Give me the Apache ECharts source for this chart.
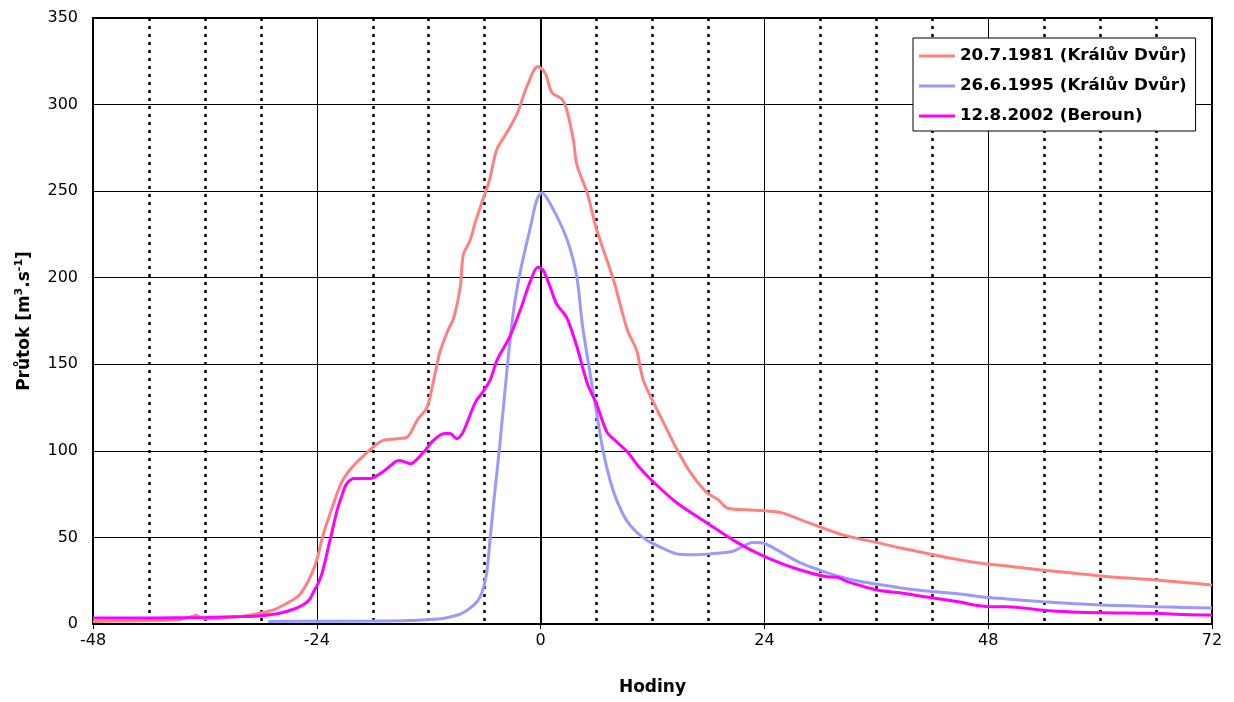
<!DOCTYPE html>
<html>
<head>
<meta charset="utf-8">
<script src="https://cdn.jsdelivr.net/npm/echarts@6/dist/echarts.min.js"></script>
<style>html,body{margin:0;padding:0;background:#fff}#c{width:1234px;height:702px}</style>
</head>
<body>
<div id="c"></div>
<script>
const seriesNames = ['20.7.1981 (Králův Dvůr)', '26.6.1995 (Králův Dvůr)', '12.8.2002 (Beroun)'];

const hours1981 = [-48,-44,-40,-38.5,-37.3,-37,-36.5,-35.8,-34,-32,-30,-28.5,-27.2,-26,-25.1,-24.4,-24,-23.3,-22.3,-21.5,-21,-20.3,-19.4,-18,-16.9,-15.5,-14.3,-13.2,-12.2,-11.5,-10.8,-9.9,-9.3,-8.6,-8.3,-7.6,-7.0,-6.2,-5.5,-4.7,-3.6,-2.5,-1.5,-0.3,0.5,1.2,2.3,2.8,3.5,3.9,5.0,6.0,7.8,9.3,10.3,11.0,12.1,13.3,14.6,16,17.8,19,20,22,23.8,25,26,28,30,32.4,36.1,38.5,42.1,45,47.4,50,53.9,57,60,63,66,69,72];
const values1981 = [1.5,1.8,2.2,2.8,4.5,5,4,3,3.5,4.5,6.3,8.5,12,16,23,31,37,52,68,80,85,90,95,102,106,107,108,118,125,140,157,170,177,195,213,221,232,245,256,274,284,295,310,322,318,307,303,297,280,265,249,228,199,170,158,141,128,115,101,88,76,72,67,66,65.5,65,64,60,56,51.5,47,44,40,37,35,33.5,31,29.5,27.7,26.5,25.4,24,22.5];

const hours1995 = [-29.2,-24,-18,-14,-12.2,-10.5,-9.4,-8.5,-7.6,-6.8,-6.3,-5.8,-5.4,-4.9,-4.4,-3.6,-2.9,-2.2,-1.1,-0.4,0.15,1.0,2.4,3.2,3.9,4.5,5.3,6.0,6.7,7.5,8.2,9.2,10.3,11.5,12.8,14.6,16,18.2,20.6,22.8,23.8,25.3,26.4,28,30,32,34.3,36.1,38.5,41.4,45,47.4,50,53.9,57,60,63,66,69,72];
const values1995 = [1.5,1.6,1.7,2,2.5,3.2,4.5,6,9,13,18,29,50,77,102,147,181,203,229,245,249,243,228,216,200,172,145,122,100,82,71,60,53,48,44.5,40.5,40,40.5,42,47,46.8,43,39.5,35,31,27.5,24.5,23,21,19,17.3,15.6,14.5,12.8,11.8,11,10.5,10,9.6,9.2];

const hours2002 = [-48,-42,-36,-32,-30,-28,-26.5,-25.5,-24.8,-24.4,-23.9,-23.4,-22.6,-21.8,-21.2,-20.8,-20,-18.3,-16.9,-15.5,-15.1,-14,-12.6,-11.5,-10.3,-9.7,-9.0,-8.4,-7.9,-7.0,-6.2,-5.4,-4.7,-3.3,-2.2,-1.1,-0.3,0.25,1.0,1.7,2.8,3.9,5.0,6.0,7.1,8.0,9.3,10.5,12.1,14.6,17.8,21.1,23.8,27.1,30.7,31.8,32.9,36.1,38.5,41.4,45,46.5,48.2,50,53.9,57,60,66,69,72];
const values2002 = [3.5,3.5,3.8,4.3,4.8,6.2,8.5,11,14,18,23,30,48,66,76,81,84,84,88,94,94.5,92.5,99,106,110,110,107,110,116,128,134,141,152,166,181,198,206,204.5,195,185,177,160,139,127,111,106,99.5,91,82,70,58.5,47,39.5,32.5,27.3,27,24.5,19.6,18,15.6,12.7,11,10,10,8,7,6.5,6.2,5.5,5.2];

const xTicks = [-48, -24, 0, 24, 48, 72];
const yTicks = [0, 50, 100, 150, 200, 250, 300, 350];

function pairs(h, v) { return h.map((x, i) => [x, v[i]]); }

const FONT = 'DejaVu Sans, Liberation Sans, Arial, sans-serif';
const LEG_ICON = 'path://M0,0H36V3H0Z';
const chart = echarts.init(document.getElementById('c'), null, {renderer: 'canvas'});
chart.setOption({
  animation: false,
  backgroundColor: '#ffffff',
  grid: {left: 93, right: 22, top: 18, bottom: 78, show: true, borderColor: '#000', borderWidth: 2, backgroundColor: 'transparent'},
  legend: {
    orient: 'vertical', left: 913, top: 38,
    padding: [9, 9, 6, 6], itemGap: 12, itemWidth: 36, itemHeight: 3,
    backgroundColor: '#fff', borderColor: '#000', borderWidth: 1,
    textStyle: {fontFamily: FONT, fontSize: 16.7, fontWeight: 'bold', color: '#000', lineHeight: 18},
    data: seriesNames.map(n => ({name: n, icon: LEG_ICON}))
  },
  xAxis: {
    type: 'value', min: xTicks[0], max: xTicks[xTicks.length - 1], interval: 24,
    name: 'Hodiny', nameLocation: 'middle', nameGap: 55,
    nameTextStyle: {fontFamily: FONT, fontSize: 17, fontWeight: 'bold', color: '#000'},
    axisLine: {show: true, onZero: false, lineStyle: {color: '#000', width: 2}},
    axisTick: {show: true, length: 5, lineStyle: {color: '#000', width: 1}},
    axisLabel: {fontFamily: FONT, fontSize: 16, color: '#000', margin: 9},
    splitLine: {show: true, lineStyle: {color: '#000', width: 1}},
    minorTick: {show: false, splitNumber: 4},
    minorSplitLine: {show: true, lineStyle: {color: '#000', width: 2.5, type: [3, 5]}}
  },
  yAxis: {
    type: 'value', min: yTicks[0], max: yTicks[yTicks.length - 1], interval: 50,
    name: 'Průtok [m{sup|3}.s{sup|-1}]', nameLocation: 'middle', nameGap: 57, nameRotate: 90,
    nameTextStyle: {fontFamily: FONT, fontSize: 17, fontWeight: 'bold', color: '#000', lineHeight: 22,
      rich: {sup: {fontFamily: FONT, fontSize: 11, fontWeight: 'bold', color: '#000', verticalAlign: 'top', lineHeight: 22}}},
    axisLine: {show: true, lineStyle: {color: '#000', width: 2}},
    axisTick: {show: true, length: 7, lineStyle: {color: '#000', width: 1}},
    axisLabel: {fontFamily: FONT, fontSize: 16, color: '#000', margin: 15},
    splitLine: {show: true, lineStyle: {color: '#000', width: 1}}
  },
  series: [
    {name: seriesNames[0], type: 'line', data: pairs(hours1981, values1981), smooth: 0.3, symbol: 'none',
     lineStyle: {color: '#FF8080', width: 3}, itemStyle: {color: '#FF8080'}, z: 3},
    {name: seriesNames[1], type: 'line', data: pairs(hours1995, values1995), smooth: 0.3, symbol: 'none',
     lineStyle: {color: '#9999FF', width: 3}, itemStyle: {color: '#9999FF'}, z: 4},
    {name: seriesNames[2], type: 'line', data: pairs(hours2002, values2002), smooth: 0.3, symbol: 'none',
     lineStyle: {color: '#FF00FF', width: 3}, itemStyle: {color: '#FF00FF'}, z: 5}
  ]
});
</script>
</body>
</html>
